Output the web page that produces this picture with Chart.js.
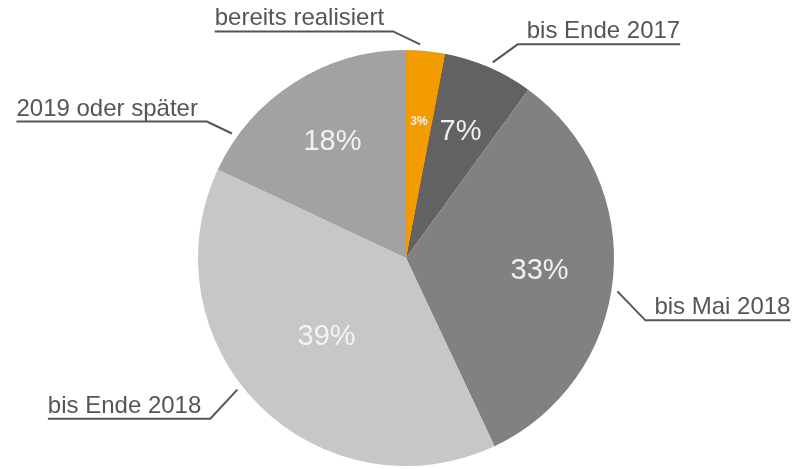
<!DOCTYPE html>
<html>
<head>
<meta charset="utf-8">
<script src="https://cdn.jsdelivr.net/npm/chart.js@4"></script>
<style>
  html, body { margin: 0; padding: 0; background: #fff; }
  #wrap { width: 794px; height: 469px; }
</style>
</head>
<body>
<div id="wrap"><canvas id="pieChart" width="794" height="469"></canvas></div>
<script>
// Chart data
const categories = ["bereits realisiert", "bis Ende 2017", "bis Mai 2018", "bis Ende 2018", "2019 oder später"];
const shares = [3, 7, 33, 39, 18];
const sliceColors = ["#f39c00", "#626262", "#818181", "#c8c6c8", "#a2a2a2"];

// Leader lines: where on the slice the line starts (0..1 of its arc),
// elbow offset and which way the horizontal line runs
const leaders = [
  { at: 0.35, dx: -27, dy: -13, dir: -1 },
  { at: 0.52, dx: 25, dy: -18, dir: 1 },
  { at: 0.53, dx: 28, dy: 29, dir: 1 },
  { at: 0.55, dx: -27, dy: 29, dir: -1 },
  { at: 0.16, dx: -25, dy: -12, dir: -1 },
];
// Distance of the percent labels from the centre, as part of the radius
const pctRadius = [0.66, 0.66, 0.645, 0.54, 0.66];

const labelPlugin = {
  id: "sliceLabels",
  afterDatasetsDraw(chart) {
    const ctx = chart.ctx;
    const arcs = chart.getDatasetMeta(0).data;
    ctx.save();
    arcs.forEach((arc, i) => {
      const { x, y, startAngle, endAngle, outerRadius } = arc.getProps(
        ["x", "y", "startAngle", "endAngle", "outerRadius"], true);
      const mid = (startAngle + endAngle) / 2;

      // percent inside the slice
      const pr = outerRadius * pctRadius[i];
      ctx.fillStyle = "rgba(245,245,245,0.95)";
      ctx.textAlign = "center";
      ctx.textBaseline = "middle";
      ctx.font = i === 0 ? "bold 12px 'Liberation Sans', Arial, sans-serif"
                         : "29px 'Liberation Sans', Arial, sans-serif";
      ctx.fillText(shares[i] + "%", x + Math.cos(mid) * pr, y + Math.sin(mid) * pr);

      // leader line and category name
      const ld = leaders[i];
      const a = startAngle + (endAngle - startAngle) * ld.at;
      const r0 = outerRadius + 6;
      const sx = x + Math.cos(a) * r0;
      const sy = y + Math.sin(a) * r0;
      const ex = sx + ld.dx;
      const ey = sy + ld.dy;
      ctx.font = "24px 'Liberation Sans', Arial, sans-serif";
      const tw = ctx.measureText(categories[i]).width;
      const endX = ex + ld.dir * (tw + 9);

      ctx.strokeStyle = "#555";
      ctx.lineWidth = 2;
      ctx.beginPath();
      ctx.moveTo(sx, sy);
      ctx.lineTo(ex, ey);
      ctx.lineTo(endX, ey);
      ctx.stroke();

      ctx.fillStyle = "#555";
      ctx.textBaseline = "alphabetic";
      ctx.textAlign = ld.dir < 0 ? "left" : "right";
      ctx.fillText(categories[i], endX, ey - 6);
    });
    ctx.restore();
  },
};

new Chart(document.getElementById("pieChart"), {
  type: "pie",
  data: {
    labels: categories,
    datasets: [
      {
        data: shares,
        backgroundColor: sliceColors,
        borderWidth: 0,
      },
    ],
  },
  options: {
    responsive: false,
    animation: false,
    layout: {
      padding: { top: 50, bottom: 3, left: 18, right: 0 },
    },
    plugins: {
      legend: { display: false },
      tooltip: { enabled: false },
    },
  },
  plugins: [labelPlugin],
});
</script>
</body>
</html>
